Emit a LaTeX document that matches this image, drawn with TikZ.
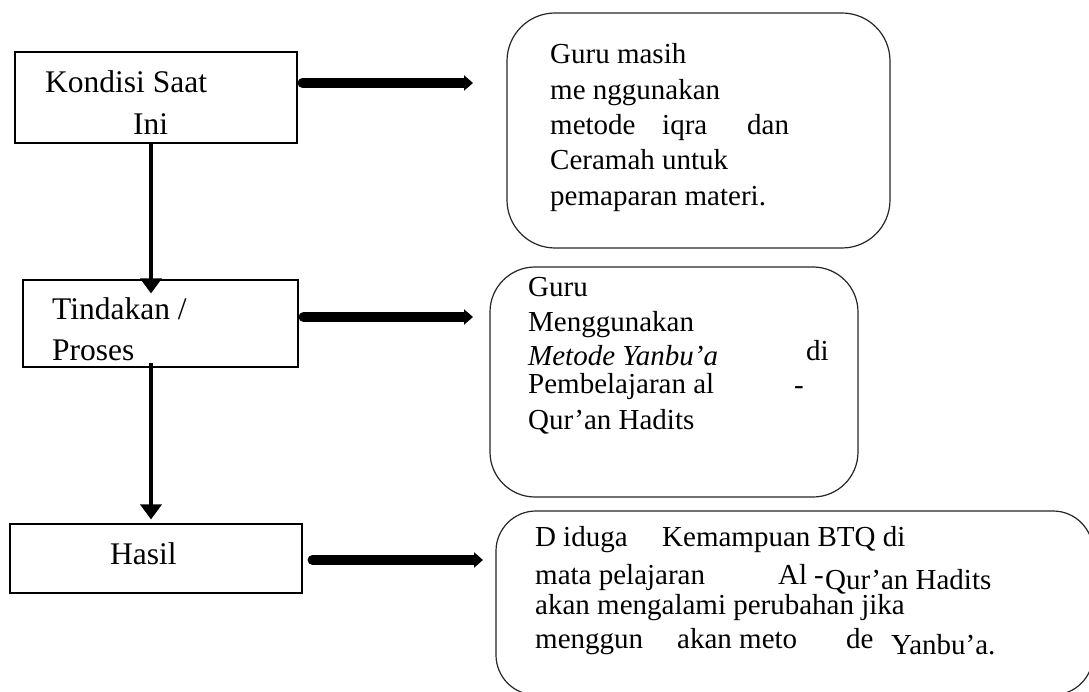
\documentclass[tikz,border=0pt]{standalone}
\usepackage{fontspec}
\setmainfont{Liberation Serif}
\usetikzlibrary{arrows.meta}
\begin{document}
\begin{tikzpicture}[x=1pt,y=-1pt,
  box/.style={draw=black, line width=1.1pt, rectangle, inner sep=0pt},
  rbox/.style={draw=black!85, line width=1.2pt, rectangle, inner sep=0pt},
  lt/.style={anchor=base west, inner sep=0pt, font=\fontsize{31.5}{38}\selectfont},
  rt/.style={anchor=base west, inner sep=0pt, font=\fontsize{29}{35}\selectfont},
  fatarrow/.style={line width=10pt, line cap=round, -{Triangle[length=9pt,width=15pt]}},
  downarrow/.style={line width=3.5pt, -{Triangle[length=15pt,width=21pt]}}]
\useasboundingbox (0,0) rectangle (1089,692);
\clip (0,0) rectangle (1089,692);
\fill[white] (0,0) rectangle (1089,692);

% left boxes
\node[box, minimum width=282pt, minimum height=91pt] (b1) at (156,97.5) {};
\node[box, minimum width=275pt, minimum height=87pt] (b2) at (160.5,323.5) {};
\node[box, minimum width=292pt, minimum height=69pt] (b3) at (156,558.5) {};

\node[lt] (k1) at (45,93) {Kondisi Saat};
\node[lt] (k2) at (133,135) {Ini};
\node[lt] (p1) at (52,320) {Tindakan /};
\node[lt] (p2) at (52,360) {Proses};
\node[lt] (h1) at (110,564) {Hasil};

% rounded boxes
\node[rbox, minimum width=383pt, minimum height=235pt, rounded corners=48pt] (r1) at (698.5,130.5) {};
\node[rbox, minimum width=368pt, minimum height=230pt, rounded corners=45pt] (r2) at (674,382) {};
\node[rbox, minimum width=597pt, minimum height=184pt, rounded corners=40pt] (r3) at (794.5,603) {};

% text box 1
\node[rt] (a1) at (550,64) {Guru masih};
\node[rt] (a2) at (550,100) {me nggunakan};
\node[rt] (a3) at (550,135) {metode};
\node[rt] (a3b) at (662,135) {iqra};
\node[rt] (a3c) at (747,135) {dan};
\node[rt] (a4) at (550,170) {Ceramah untuk};
\node[rt] (a5) at (550,206) {pemaparan materi.};

% text box 2
\node[rt] (c1) at (528,297) {Guru};
\node[rt] (c2) at (528,331) {Menggunakan};
\node[rt] (c3) at (528,366) {\itshape Metode Yanbu’a};
\node[rt] (c3b) at (806,360) {di};
\node[rt] (c4) at (528,393) {Pembelajaran al};
\node[rt] (c4b) at (794,394) {-};
\node[rt] (c5) at (528,429) {Qur’an Hadits};

% text box 3
\node[rt] (d1) at (535,546) {D};
\node[rt] (d1b) at (563,546) {iduga};
\node[rt] (d1c) at (662,546) {Kemampuan BTQ di};
\node[rt] (d2) at (535,584) {mata pelajaran};
\node[rt] (d2b) at (778,584) {Al};
\node[rt] (d2c) at (814,584) {-};
\node[rt] (d2d) at (825,589) {Qur’an Hadits};
\node[rt] (d3) at (535,614) {akan mengalami perubahan jika};
\node[rt] (d4) at (535,648) {menggun};
\node[rt] (d4b) at (677,648) {akan meto};
\node[rt] (d4c) at (846,648) {de};
\node[rt] (d4d) at (891,654) {Yanbu’a.};

% connectors
\coordinate (vx) at (151,0);
\coordinate (e1) at (473,83);
\coordinate (e2) at (473,317);
\coordinate (e3) at (483,560);
\draw[fatarrow] ([xshift=5pt]b1.east |- e1) -- (e1);
\draw[fatarrow] ([xshift=5pt]b2.east |- e2) -- (e2);
\draw[fatarrow] ([xshift=10pt]b3.east |- e3) -- (e3);
\draw[downarrow] ([yshift=2pt]b1.south -| vx) -- ([yshift=-14pt]b2.north -| vx);
\draw[downarrow] ([yshift=5pt]b2.south -| vx) -- ([yshift=4pt]b3.north -| vx);
\end{tikzpicture}
\end{document}
